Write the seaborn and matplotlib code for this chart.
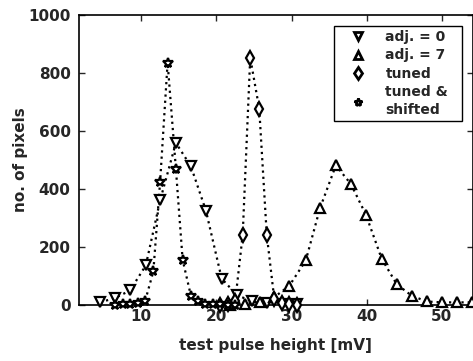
import matplotlib
matplotlib.use("Agg")
import matplotlib.pyplot as plt
from matplotlib.lines import Line2D
from matplotlib.patches import Rectangle
import seaborn as sns
import pandas as pd

# ---- data ----
adj0_x = [4.5, 6.5, 8.5, 10.6, 12.5, 14.6, 16.6, 18.6, 20.7, 22.7, 24.7, 26.7, 28.7, 30.7]
adj0_y = [8, 23, 49, 136, 360, 559, 478, 325, 90, 34, 11, 6, 4, 3]

adj7_x = [21.8, 23.8, 25.8, 27.7, 29.7, 31.9, 33.8, 35.9, 37.9, 39.9, 42.0, 44.0, 46.0, 48.0, 50.0, 52.0, 54.0]
adj7_y = [0, 3, 10, 26, 65, 153, 334, 481, 417, 311, 159, 71, 31, 11, 8, 8, 8]

tuned_x = [20.5, 21.5, 22.5, 23.5, 24.5, 25.7, 26.7, 27.7, 28.7, 29.7, 30.7]
tuned_y = [0, 2, 12, 242, 853, 677, 242, 20, 5, 2, 0]

shift_x = [6.5, 7.5, 8.5, 9.5, 10.5, 11.6, 12.5, 13.5, 14.6, 15.5, 16.6, 17.5, 18.5, 19.5, 20.5, 21.5, 22.5]
shift_y = [0, 2, 3, 5, 12, 115, 424, 836, 470, 155, 31, 11, 4, 2, 1, 0, 0]

labels = ["adj. = 0", "adj. = 7", "tuned", "tuned &\nshifted"]
x_ticks = [10, 20, 30, 40, 50]
y_ticks = [0, 200, 400, 600, 800, 1000]

sns.set_style("ticks")
plt.rcParams["font.family"] = ["DejaVu Sans"]
plt.rcParams["font.weight"] = "bold"

fig = plt.figure(figsize=(4.73, 3.61), dpi=100)
ax = fig.add_axes([0.167, 0.156, 0.832, 0.802])

series = [
    (adj0_x, adj0_y, "v", 7.5),
    (adj7_x, adj7_y, "^", 7.5),
    (tuned_x, tuned_y, "d", 7.5),
    (shift_x, shift_y, "*", 7),
]

for (xs, ys, m, ms), lab in zip(series, labels):
    df = pd.DataFrame({"x": xs, "y": ys})
    sns.lineplot(data=df, x="x", y="y", ax=ax, color="black",
                 linestyle=(0, (1, 1.8)), linewidth=1.6, sort=False,
                 estimator=None, legend=False)
    ax.plot(df["x"], df["y"], linestyle="none", marker=m, markersize=ms,
            markerfacecolor="white", markeredgecolor="black",
            markeredgewidth=1.6, clip_on=False, zorder=3)

ax.set_xlim(1.7, 54.1)
ax.set_ylim(0, 1000)
ax.set_xticks(x_ticks)
ax.set_yticks(y_ticks)
ax.tick_params(direction="in", length=4, width=1, top=True, right=True,
               labelsize=11)
ax.tick_params(axis="x", pad=3)
ax.tick_params(axis="y", pad=6)
for t in ax.get_xticklabels() + ax.get_yticklabels():
    t.set_fontweight("bold")
for s in ax.spines.values():
    s.set_linewidth(1.2)
    s.set_color("black")

ax.set_xlabel("test pulse height [mV]", fontsize=11, fontweight="bold", labelpad=10)
ax.set_ylabel("no. of pixels", fontsize=11, fontweight="bold", labelpad=0)

# legend box (frame drawn separately to get wider side padding)
box = Rectangle((0.648, 0.634), 0.325, 0.328, transform=ax.transAxes,
                facecolor="white", edgecolor="black", linewidth=1.0, zorder=4)
ax.add_patch(box)

handles = [Line2D([], [], linestyle="none", marker=m, markersize=ms * 0.85,
                  markerfacecolor="white", markeredgecolor="black",
                  markeredgewidth=2.0) for (_, _, m, ms) in series]
leg = ax.legend(handles, labels, loc="upper left",
                bbox_to_anchor=(0.648, 0.962), frameon=False, fontsize=10,
                handlelength=2.8, handletextpad=0.6, labelspacing=0.3,
                borderpad=0.3, borderaxespad=0)
leg.set_zorder(5)
for t in leg.get_texts():
    t.set_fontweight("bold")
    t.set_linespacing(1.4)

fig.savefig("out.png", dpi=100)
